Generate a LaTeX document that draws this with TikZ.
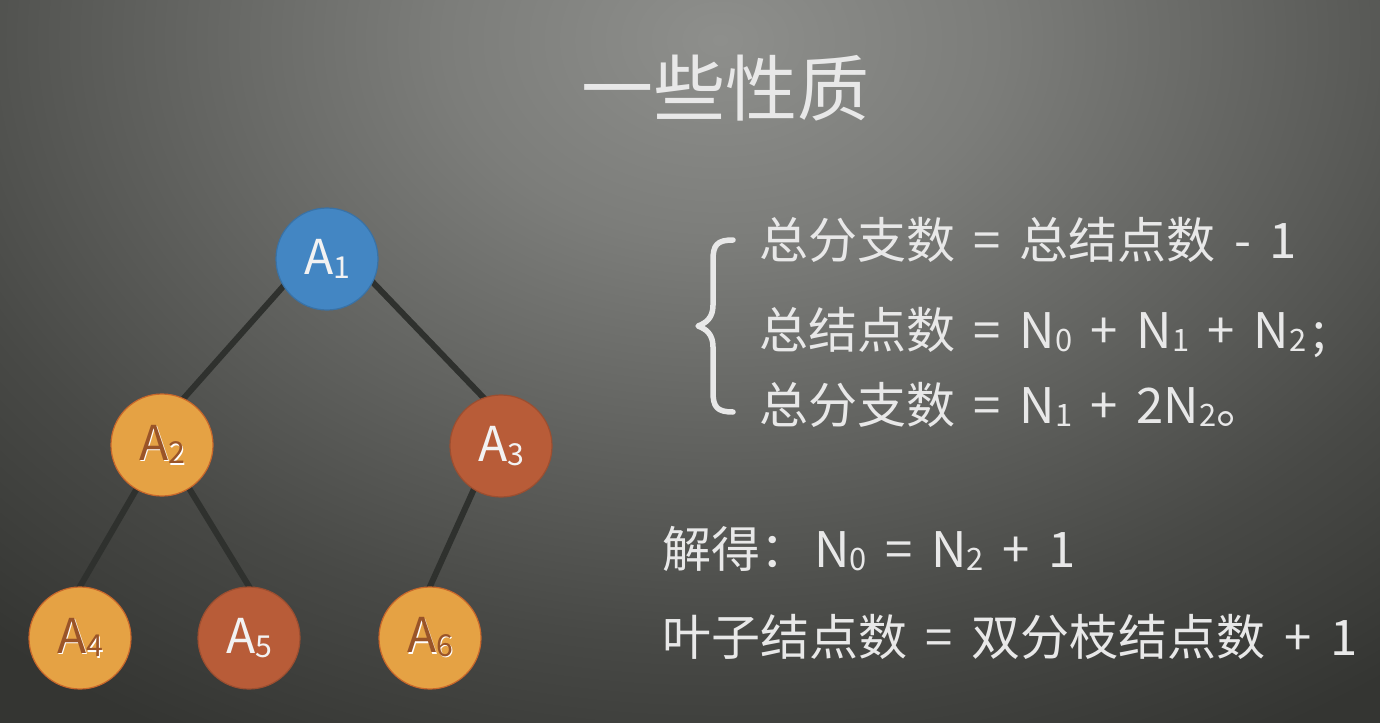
\documentclass[tikz,border=0pt]{standalone}
\usepackage{fontspec}
\usepackage{graphicx}
\setmainfont{Noto Sans CJK SC}

% palette
\definecolor{bgA}{HTML}{8E8F8C}
\definecolor{bgB}{HTML}{7C7D7A}
\definecolor{bgC}{HTML}{626360}
\definecolor{bgD}{HTML}{484946}
\definecolor{bgE}{HTML}{343532}
\definecolor{nodeblue}{HTML}{4386C3}
\definecolor{nodeorange}{HTML}{E5A244}
\definecolor{nodered}{HTML}{B85C38}
\definecolor{labelbrown}{HTML}{9A5428}
\definecolor{labelwhite}{HTML}{F2F2F2}
\definecolor{branchc}{HTML}{2F312E}
\definecolor{textc}{HTML}{E8E8E8}

\pgfdeclareradialshading{bgshade}{\pgfpoint{0bp}{0bp}}{%
  color(0bp)=(bgA); color(6.25bp)=(bgB); color(12.5bp)=(bgC);
  color(18.75bp)=(bgD); color(25bp)=(bgE); color(50bp)=(bgE)}

\pgfdeclarelayer{back}
\pgfdeclarelayer{edges}
\pgfsetlayers{back,edges,main}

% subscript digit
\newcommand\subd[1]{\raisebox{-0.08em}{\scalebox{0.63}{#1}}}
% label with a light rim to the lower right
\newcommand\rim[2]{\makebox[0pt][l]{\hspace{1.3bp}\raisebox{-1.3bp}{\color{#1}#2}}#2}
% wide word gap used in the equations
\newcommand\gap{\hspace{0.38em}}

\tikzset{
  treenode/.style={circle, minimum size=102bp, inner sep=0pt,
    font=\fontsize{48bp}{48bp}\selectfont},
  bluenode/.style={treenode, fill=nodeblue, draw=nodeblue!85!black,
    line width=1.2bp, text=labelwhite},
  orangenode/.style={treenode, fill=nodeorange, draw=nodeorange!75!red!85!black,
    line width=1.2bp, text=labelbrown},
  rednode/.style={treenode, fill=nodered, draw=nodered!85!black,
    line width=1.2bp, text=labelwhite},
  branch/.style={draw=branchc, line width=6bp, shorten <=-6bp, shorten >=-6bp},
  rowtext/.style={anchor=base west, inner sep=0pt, text=textc,
    font=\fontsize{49bp}{49bp}\selectfont},
  titletext/.style={inner sep=0pt, text=textc,
    font=\fontsize{72bp}{72bp}\selectfont},
  bracec/.style={draw=textc, line width=5.5bp, line cap=round, line join=round},
}

\begin{document}
\begin{tikzpicture}[x=1bp,y=1bp]
\useasboundingbox (0,0) rectangle (1380,-722);

% backdrop
\begin{pgfonlayer}{back}
  \fill[bgE] (-6,6) rectangle (1386,-728);
  \begin{scope}
    \clip (-6,6) rectangle (1386,-728);
    \shade[shading=bgshade] (720,-40) ellipse [x radius=1100bp, y radius=800bp];
  \end{scope}
\end{pgfonlayer}

% title
\node[titletext] (title) at (725,-88) {一些性质};

% tree
\node[bluenode]   (a1) at (327,-259) {A\subd{1}};
\node[orangenode] (a2) at (162,-445) {\rim{white}{A\subd{2}}};
\node[rednode]    (a3) at (501,-446) {A\subd{3}};
\node[orangenode] (a4) at (80,-638)  {\rim{white}{A\subd{4}}};
\node[rednode]    (a5) at (249,-638) {A\subd{5}};
\node[orangenode] (a6) at (430,-638) {\rim{white}{A\subd{6}}};

\begin{pgfonlayer}{edges}
  \draw[branch] (a1.212) -- (a2.65);
  \draw[branch] (a1.333) -- (a3.110);
  \draw[branch] (a2.240) -- (a4.north);
  \draw[branch] (a2.302) -- (a5.north);
  \draw[branch] (a3.238) -- (a6.north);
\end{pgfonlayer}

% brace grouping the three equations
\coordinate (bt) at (733,-240);
\coordinate (bb) at (733,-412);
\draw[bracec] (bt) .. controls (717,-240) and (713,-245) .. (713,-260)
  -- (713,-305) .. controls (713,-318) and (706,-323) .. (698,-326)
  .. controls (706,-329) and (713,-334) .. (713,-347)
  -- (713,-392) .. controls (713,-407) and (717,-412) .. (bb);

% equations
\node[rowtext] (r1) at (759,-258) {总分支数\gap{}=\gap{}总结点数\gap{}-\gap{}1};
\node[rowtext] (r2) at (759,-348) {总结点数\gap{}=\gap{}N\subd{0}\gap{}+\gap{}N\subd{1}\gap{}+\gap{}N\subd{2}\hspace{0.12em};};
\node[rowtext] (r3) at (759,-423) {总分支数\gap{}=\gap{}N\subd{1}\gap{}+\gap{}2N\subd{2}。};
\node[rowtext] (r4) at (662,-567) {解得：\hspace{0.1em}N\subd{0}\gap{}=\gap{}N\subd{2}\gap{}+\gap{}1};
\node[rowtext] (r5) at (662,-655) {叶子结点数\gap{}=\gap{}双分枝结点数\gap{}+\gap{}1};
\end{tikzpicture}
\end{document}
